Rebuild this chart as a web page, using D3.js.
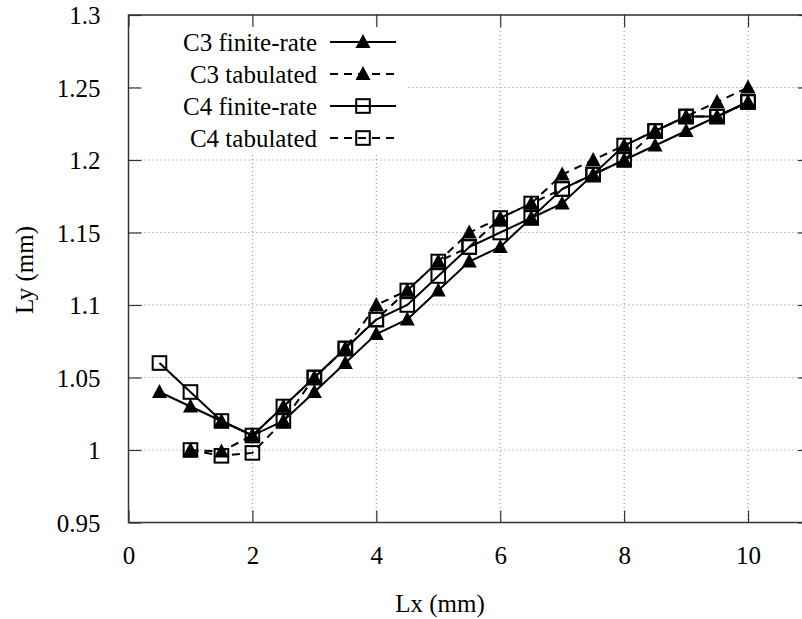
<!DOCTYPE html>
<html>
<head>
<meta charset="utf-8">
<script src="https://cdn.jsdelivr.net/npm/d3@7"></script>
<style>
  html, body { margin: 0; padding: 0; background: #fff; }
  svg { display: block; }
</style>
</head>
<body>
<svg id="chart" width="802" height="619"></svg>
<script>
// ---- data ----
const xFinite = [0.5, 1, 1.5, 2, 2.5, 3, 3.5, 4, 4.5, 5, 5.5, 6, 6.5, 7, 7.5, 8, 8.5, 9, 9.5, 10];
const xTabulated = [1, 1.5, 2, 2.5, 3, 3.5, 4, 4.5, 5, 5.5, 6, 6.5, 7, 7.5, 8, 8.5, 9, 9.5, 10];
const c3Finite = [1.04, 1.03, 1.02, 1.01, 1.02, 1.04, 1.06, 1.08, 1.09, 1.11, 1.13, 1.14, 1.16, 1.17, 1.19, 1.20, 1.21, 1.22, 1.23, 1.24];
const c3Tabulated = [1.00, 0.999, 1.01, 1.03, 1.05, 1.07, 1.10, 1.11, 1.13, 1.15, 1.16, 1.17, 1.19, 1.20, 1.21, 1.22, 1.23, 1.24, 1.25];
const c4Finite = [1.06, 1.04, 1.02, 1.01, 1.03, 1.05, 1.07, 1.09, 1.10, 1.12, 1.14, 1.15, 1.16, 1.18, 1.19, 1.21, 1.22, 1.23, 1.23, 1.24];
const c4Tabulated = [1.00, 0.996, 0.998, 1.02, 1.05, 1.07, 1.09, 1.11, 1.13, 1.14, 1.16, 1.17, 1.18, 1.19, 1.20, 1.22, 1.23, 1.23, 1.24];
const seriesNames = ["C3 finite-rate", "C3 tabulated", "C4 finite-rate", "C4 tabulated"];
const xTicks = [0, 2, 4, 6, 8, 10];
const yTicks = [0.95, 1, 1.05, 1.1, 1.15, 1.2, 1.25, 1.3];
const xLabel = "Lx (mm)";
const yLabel = "Ly (mm)";

// ---- pick an installed serif face ----
function pickSerif() {
  const cands = ["Liberation Serif", "Times New Roman", "Tinos", "DejaVu Serif", "Noto Serif",
                 "Nimbus Roman", "FreeSerif", "Times", "Noto Serif CJK SC", "serif"];
  const c = document.createElement("canvas").getContext("2d");
  const sample = "C3 finite-rate tabulated 0.95 1.25 Lx (mm) WMwiIl";
  function w(f) { c.font = "40px " + f; return c.measureText(sample).width; }
  const bases = ["monospace", "sans-serif", "cursive"].map(b => [b, w(b)]);
  for (const f of cands) {
    if (f === "serif") return "serif";
    const ok = bases.some(([b, bw]) => Math.abs(w('"' + f + '",' + b) - bw) > 0.5);
    if (ok) return '"' + f + '"';
  }
  return "serif";
}
const SERIF = pickSerif() + ", serif";

// ---- layout ----
const svg = d3.select("#chart");
const L = 128.5, R = 810, T = 15, B = 522.5;
const x = d3.scaleLinear().domain([0, 11]).range([L, R]);
const y = d3.scaleLinear().domain([0.95, 1.3]).range([B, T]);
const FONT = 25;

const series = [
  { name: seriesNames[0], xs: xFinite, ys: c3Finite, dash: null, marker: "tri" },
  { name: seriesNames[1], xs: xTabulated, ys: c3Tabulated, dash: "8,6", marker: "tri" },
  { name: seriesNames[2], xs: xFinite, ys: c4Finite, dash: null, marker: "sq" },
  { name: seriesNames[3], xs: xTabulated, ys: c4Tabulated, dash: "8,6", marker: "sq" }
];

// grid
const grid = svg.append("g");
xTicks.forEach(t => {
  grid.append("line").attr("x1", x(t)).attr("x2", x(t)).attr("y1", T).attr("y2", B)
    .attr("stroke", "#888").attr("stroke-width", 1).attr("stroke-dasharray", "1,3");
});
yTicks.forEach(t => {
  grid.append("line").attr("x1", L).attr("x2", R).attr("y1", y(t)).attr("y2", y(t))
    .attr("stroke", "#888").attr("stroke-width", 1).attr("stroke-dasharray", "1,3");
});

// markers
function drawMarker(g, type, cx, cy) {
  if (type === "tri") {
    g.append("path")
      .attr("d", `M${cx},${cy - 8}L${cx + 7.5},${cy + 6}L${cx - 7.5},${cy + 6}Z`)
      .attr("fill", "#000");
  } else {
    const s = 6.8;
    g.append("rect").attr("x", cx - s).attr("y", cy - s).attr("width", 2 * s).attr("height", 2 * s)
      .attr("fill", "none").attr("stroke", "#000").attr("stroke-width", 2);
  }
}

// series
const line = d3.line().x(d => x(d[0])).y(d => y(d[1]));
const plot = svg.append("g");
series.forEach(s => {
  const pts = s.xs.map((v, i) => [v, s.ys[i]]);
  plot.append("path").datum(pts).attr("d", line)
    .attr("fill", "none").attr("stroke", "#000").attr("stroke-width", 2)
    .attr("stroke-dasharray", s.dash);
  pts.forEach(p => drawMarker(plot, s.marker, x(p[0]), y(p[1])));
});

// legend (opaque key)
const key = svg.append("g");
key.append("rect").attr("x", 140).attr("y", 26).attr("width", 267).attr("height", 128).attr("fill", "#fff");
series.forEach((s, i) => {
  const ly = 42 + i * 32;
  key.append("text").attr("x", 317).attr("y", ly + 8.5).attr("text-anchor", "end")
    .attr("font-size", FONT).attr("font-family", SERIF).attr("fill", "#000").text(s.name);
  key.append("line").attr("x1", 330).attr("x2", 396).attr("y1", ly).attr("y2", ly)
    .attr("stroke", "#000").attr("stroke-width", 2).attr("stroke-dasharray", s.dash);
  drawMarker(key, s.marker, 363, ly);
});

// frame and axes
const axisG = svg.append("g");
const xb = axisG.append("g").attr("transform", `translate(0,${B})`)
  .call(d3.axisBottom(x).tickValues(xTicks).tickSize(-12).tickPadding(24).tickFormat(d3.format("d")));
axisG.append("g").attr("transform", `translate(0,${T})`)
  .call(d3.axisTop(x).tickValues(xTicks).tickSize(-12).tickFormat(""));
const yl = axisG.append("g").attr("transform", `translate(${L},0)`)
  .call(d3.axisLeft(y).tickValues(yTicks).tickSize(-13).tickPadding(28).tickFormat(d => String(+d.toFixed(2))));
axisG.append("g").attr("transform", `translate(${R},0)`)
  .call(d3.axisRight(y).tickValues(yTicks).tickSize(-12).tickFormat(""));
axisG.selectAll("g").attr("font-family", SERIF).attr("font-size", FONT);
axisG.selectAll(".domain").remove();
axisG.selectAll(".tick line").attr("stroke", "#333").attr("stroke-width", 1.2);
axisG.selectAll("text").attr("font-size", FONT).attr("font-family", SERIF).attr("fill", "#000");
yl.selectAll("text").attr("dy", "0.34em");
xb.selectAll("text").attr("dy", "0.71em");
axisG.append("rect").attr("x", L).attr("y", T).attr("width", R - L).attr("height", B - T)
  .attr("fill", "none").attr("stroke", "#333").attr("stroke-width", 1.5);

// axis titles
svg.append("text").attr("x", 440).attr("y", 612).attr("text-anchor", "middle")
  .attr("font-size", FONT).attr("font-family", SERIF).attr("fill", "#000").text(xLabel);
svg.append("text").attr("transform", "translate(33,270) rotate(-90)").attr("text-anchor", "middle")
  .attr("font-size", FONT).attr("font-family", SERIF).attr("fill", "#000").text(yLabel);
</script>
</body>
</html>
